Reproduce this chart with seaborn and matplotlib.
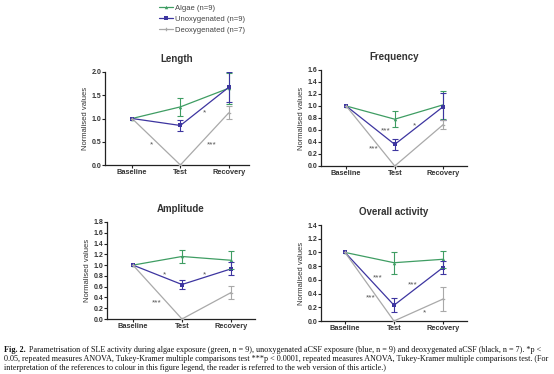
import matplotlib
matplotlib.use("Agg")
import matplotlib.pyplot as plt
from matplotlib.lines import Line2D
import seaborn as sns
import pandas as pd

sns.set_theme(style="ticks")
plt.rcParams['font.family'] = ['Liberation Sans', 'DejaVu Sans']

# Dados
phases = ['Baseline', 'Test', 'Recovery']
groups = ['Algae (n=9)', 'Unoxygenated (n=9)', 'Deoxygenated (n=7)']
colors = ['#3f9d63', '#3d35a0', '#a9a9a9']
markers = ['^', 's', 'P']

titles = ['Length', 'Frequency', 'Amplitude', 'Overall activity']
y_max = [2.0, 1.6, 1.8, 1.4]
y_step = [0.5, 0.2, 0.2, 0.2]

# médias por grupo (algae, unoxygenated, deoxygenated)
length_mean = [[1.0, 1.25, 1.65], [1.0, 0.85, 1.67], [1.0, 0.0, 1.12]]
length_err = [[0, 0.20, 0.33], [0, 0.12, 0.32], [0, 0, 0.14]]
freq_mean = [[1.0, 0.78, 1.02], [1.0, 0.36, 0.99], [1.0, 0.0, 0.69]]
freq_err = [[0, 0.13, 0.23], [0, 0.09, 0.22], [0, 0, 0.07]]
ampl_mean = [[1.0, 1.16, 1.09], [1.0, 0.64, 0.93], [1.0, 0.0, 0.49]]
ampl_err = [[0, 0.12, 0.17], [0, 0.09, 0.12], [0, 0, 0.12]]
overall_mean = [[1.0, 0.85, 0.90], [1.0, 0.23, 0.78], [1.0, 0.0, 0.32]]
overall_err = [[0, 0.16, 0.12], [0, 0.10, 0.095], [0, 0, 0.17]]

# anotações de significância (texto, x, y)
length_stars = [('*', 0.41, 0.43), ('*', 1.50, 1.12), ('***', 1.64, 0.43)]
freq_stars = [('***', 0.82, 0.58), ('***', 0.56, 0.28), ('*', 1.41, 0.67)]
ampl_stars = [('*', 0.64, 0.82), ('*', 1.45, 0.81), ('***', 0.48, 0.29)]
overall_stars = [('***', 0.66, 0.63), ('***', 0.53, 0.33), ('***', 1.39, 0.53), ('*', 1.63, 0.12)]

means = [length_mean, freq_mean, ampl_mean, overall_mean]
errs = [length_err, freq_err, ampl_err, overall_err]
stars = [length_stars, freq_stars, ampl_stars, overall_stars]

W, H = 554, 374
# posições dos eixos em pixels: esquerda, direita, topo, base
boxes = [(105, 249, 72, 165), (321, 467, 70, 166), (107, 255, 222, 319), (321, 467, 225, 321)]
xlims = [(-0.56, 2.42), (-0.52, 2.49), (-0.53, 2.49), (-0.49, 2.49)]

fig = plt.figure(figsize=(W / 100, H / 100), dpi=100)
fig.patch.set_facecolor('white')

for i in range(4):
    l, r, t, b = boxes[i]
    ax = fig.add_axes([l / W, 1 - b / H, (r - l) / W, (b - t) / H])
    rows = []
    for g, grp in enumerate(groups):
        for p, ph in enumerate(phases):
            rows.append({'pos': p, 'value': means[i][g][p], 'err': errs[i][g][p], 'group': grp})
    df = pd.DataFrame(rows)
    sns.lineplot(data=df, x='pos', y='value', hue='group', style='group',
                 palette=colors, markers=markers, dashes=False, markersize=2.5,
                 markeredgewidth=0, linewidth=0.9, legend=False, ax=ax, zorder=3)
    for g, grp in enumerate(groups):
        sub = df[(df['group'] == grp) & (df['err'] > 0)]
        ax.errorbar(sub['pos'], sub['value'], yerr=sub['err'], fmt='none',
                    ecolor=colors[g], elinewidth=0.8, capsize=2.3, capthick=0.8, zorder=3)
    for txt, x, y in stars[i]:
        ax.text(x, y, txt, fontsize=6, color='#555555', ha='center', va='center')

    ax.set_xlim(*xlims[i])
    ax.set_ylim(0, y_max[i])
    n = int(round(y_max[i] / y_step[i]))
    ax.set_yticks([k * y_step[i] for k in range(n + 1)])
    ax.set_yticklabels([f'{k * y_step[i]:.1f}' for k in range(n + 1)])
    ax.set_xticks(range(3))
    ax.set_xticklabels(phases)
    ax.tick_params(axis='y', labelsize=5, length=2, width=0.8, pad=0.5, colors='#222222')
    ax.tick_params(axis='x', labelsize=5.3, length=2, width=0.8, pad=1, colors='#222222')
    for lab in ax.get_xticklabels() + ax.get_yticklabels():
        lab.set_fontweight('bold')
        lab.set_color('#333333')
    ax.set_xlabel('')
    ax.set_ylabel('Normalised values', fontsize=5.5, color='#333333', labelpad=2)
    sns.despine(ax=ax)
    for s in ['left', 'bottom']:
        ax.spines[s].set_linewidth(0.9)
        ax.spines[s].set_color('#222222')
    ax.set_title(titles[i], fontsize=7, fontweight='bold', color='#333333', pad=7)
    if i == 0:
        first_ax = ax

# legenda no topo
handles = [Line2D([0], [0], color=c, marker=m, markersize=2.5, markeredgewidth=0, lw=0.9)
           for c, m in zip(colors, markers)]
fig.legend(handles, groups, loc='upper left', bbox_to_anchor=(155 / W, 1 - 1 / H),
           frameon=False, fontsize=5.5, handlelength=1.8, handletextpad=0.3,
           labelspacing=0.45, borderpad=0, labelcolor='#444444')

# legenda da figura (texto)
cap = dict(fontsize=5.85, family=['Liberation Serif', 'DejaVu Serif'], color='#111111')
t1 = fig.text(4 / W, 1 - 352 / H, 'Fig. 2.', fontweight='bold', **cap)
first_ax.annotate('Parametrisation of SLE activity during algae exposure (green, n = 9), unoxygenated aCSF '
                  'exposure (blue, n = 9) and deoxygenated aCSF (black, n = 7). *p <',
                  xy=(1, 0), xycoords=t1, xytext=(2.5, 0), textcoords='offset points',
                  va='bottom', annotation_clip=False, **cap)
fig.text(4 / W, 1 - 361 / H, '0.05, repeated measures ANOVA, Tukey-Kramer multiple comparisons test ***p < 0.0001, '
         'repeated measures ANOVA, Tukey-Kramer multiple comparisons test. (For', **cap)
fig.text(4 / W, 1 - 370 / H, 'interpretation of the references to colour in this figure legend, the reader is '
         'referred to the web version of this article.)', **cap)

fig.savefig('out.png', dpi=100)
